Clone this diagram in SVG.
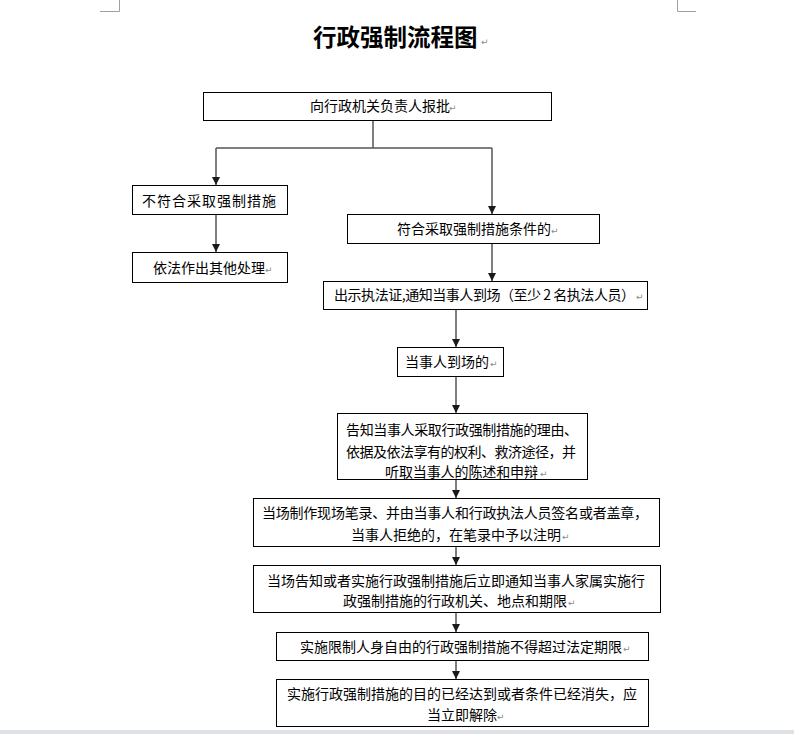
<svg xmlns="http://www.w3.org/2000/svg" width="794" height="734" viewBox="0 0 794 734">
<style>
  .box { fill: #ffffff; stroke: #000000; stroke-width: 1; }
  .t { font-family: "Noto Sans CJK SC", "Noto Sans CJK JP", sans-serif; font-size: 14px; fill: #000000; }
  .title { font-family: "Noto Sans CJK SC", "Noto Sans CJK JP", sans-serif; font-size: 23.5px; font-weight: bold; fill: #000000; }
  .pm { font-family: "DejaVu Sans", sans-serif; font-size: 9px; fill: #8a8a8a; }
  .conn { fill: none; stroke: #555555; stroke-width: 1.5; }
  .corner { fill: none; stroke: #a0a0a0; stroke-width: 1; }
</style>
<defs>
  <marker id="arrow" viewBox="0 0 10 10" refX="10" refY="5" markerWidth="9" markerHeight="8" markerUnits="userSpaceOnUse" orient="auto">
    <path d="M0,0 L10,5 L0,10 z" fill="#1a1a1a"/>
  </marker>
</defs>
<rect x="0" y="0" width="794" height="734" fill="#ffffff"/>
<g id="page-marks">
  <path class="corner" d="M119.5,0 V11.5 H100"/>
  <path class="corner" d="M677.5,0 V11.5 H696"/>
  <rect x="0" y="730" width="794" height="4" fill="#dde0e5"/>
</g>
<g id="title">
  <text class="title" x="313" y="46">行政强制流程图</text>
  <text class="pm" x="481" y="45">↵</text>
</g>
<g id="connectors">
  <path class="conn" d="M373,120 V148"/>
  <path class="conn" d="M216,148 H492"/>
  <path class="conn" d="M216,148 V185" marker-end="url(#arrow)"/>
  <path class="conn" d="M492,148 V214" marker-end="url(#arrow)"/>
  <path class="conn" d="M216,214 V252" marker-end="url(#arrow)"/>
  <path class="conn" d="M492,243 V281" marker-end="url(#arrow)"/>
  <path class="conn" d="M456,309 V347" marker-end="url(#arrow)"/>
  <path class="conn" d="M456,376 V413" marker-end="url(#arrow)"/>
  <path class="conn" d="M456,479 V498" marker-end="url(#arrow)"/>
  <path class="conn" d="M456,546 V565" marker-end="url(#arrow)"/>
  <path class="conn" d="M456,612 V632" marker-end="url(#arrow)"/>
  <path class="conn" d="M456,660 V679" marker-end="url(#arrow)"/>
</g>
<g id="n1">
  <rect class="box" x="203.5" y="92.5" width="348" height="28"/>
  <text class="t" x="310" y="111">向行政机关负责人报批</text>
  <text class="pm" x="449" y="111">↵</text>
</g>
<g id="n2">
  <rect class="box" x="132.5" y="185.5" width="155" height="29"/>
  <text class="t" x="142" y="206" letter-spacing="1">不符合采取强制措施</text>
</g>
<g id="n3">
  <rect class="box" x="132.5" y="252.5" width="155" height="30"/>
  <text class="t" x="153" y="273">依法作出其他处理</text>
  <text class="pm" x="265" y="273">↵</text>
</g>
<g id="n4">
  <rect class="box" x="347.5" y="214.5" width="252" height="29"/>
  <text class="t" x="397" y="234">符合采取强制措施条件的</text>
  <text class="pm" x="551" y="234">↵</text>
</g>
<g id="n5">
  <rect class="box" x="323.5" y="281.5" width="324" height="28"/>
  <text class="t" x="334" y="300" textLength="301" lengthAdjust="spacing">出示执法证,通知当事人到场（至少 2 名执法人员）</text>
  <text class="pm" x="636" y="300">↵</text>
</g>
<g id="n6">
  <rect class="box" x="397.5" y="347.5" width="106" height="29"/>
  <text class="t" x="405" y="367">当事人到场的</text>
  <text class="pm" x="490" y="367">↵</text>
</g>
<g id="n7">
  <rect class="box" x="337.5" y="413.5" width="250" height="66"/>
  <text class="t" x="346" y="435" textLength="232" lengthAdjust="spacing">告知当事人采取行政强制措施的理由、</text>
  <text class="t" x="346" y="457" textLength="230" lengthAdjust="spacing">依据及依法享有的权利、救济途径，并</text>
  <text class="t" x="385" y="477" textLength="153" lengthAdjust="spacing">听取当事人的陈述和申辩</text>
  <text class="pm" x="540" y="477">↵</text>
</g>
<g id="n8">
  <rect class="box" x="253.5" y="498.5" width="406" height="48"/>
  <text class="t" x="262" y="518" textLength="386" lengthAdjust="spacing">当场制作现场笔录、并由当事人和行政执法人员签名或者盖章，</text>
  <text class="t" x="351" y="540">当事人拒绝的，在笔录中予以注明</text>
  <text class="pm" x="562" y="540">↵</text>
</g>
<g id="n9">
  <rect class="box" x="253.5" y="565.5" width="407" height="47"/>
  <text class="t" x="267" y="586">当场告知或者实施行政强制措施后立即通知当事人家属实施行</text>
  <text class="t" x="343" y="606">政强制措施的行政机关、地点和期限</text>
  <text class="pm" x="568" y="606">↵</text>
</g>
<g id="n10">
  <rect class="box" x="276.5" y="632.5" width="372" height="28"/>
  <text class="t" x="300" y="652">实施限制人身自由的行政强制措施不得超过法定期限</text>
  <text class="pm" x="623" y="652">↵</text>
</g>
<g id="n11">
  <rect class="box" x="276.5" y="679.5" width="372" height="47"/>
  <text class="t" x="287" y="699">实施行政强制措施的目的已经达到或者条件已经消失，应</text>
  <text class="t" x="427" y="720">当立即解除</text>
  <text class="pm" x="497" y="720">↵</text>
</g>
</svg>
